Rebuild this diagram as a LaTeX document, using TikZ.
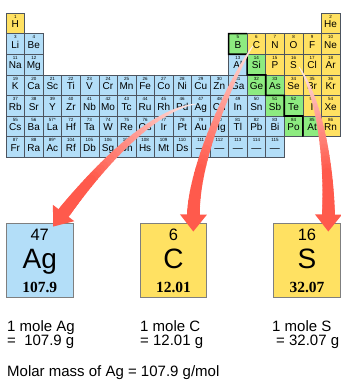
\documentclass[tikz,border=0pt]{standalone}
\usepackage{fontspec}
\setmainfont{Liberation Sans}
\newfontfamily\massfont{Liberation Serif}
\usetikzlibrary{calc}
\definecolor{pblue}{HTML}{B3DEF8}
\definecolor{pylw}{HTML}{FFE162}
\definecolor{pgrn}{HTML}{8DEB80}
\definecolor{arrred}{HTML}{FF5A4C}
\definecolor{cellline}{HTML}{4D5560}
\definecolor{boxline}{HTML}{7F7F7F}
\newcommand\tarrow[5]{%
  \coordinate (#1tip) at #5;
  \coordinate (#1end) at ($(#1tip)!17pt!#4$);
  \path #2 .. controls #3 and #4 .. (#1end)
    \foreach \myi in {0,...,40}{coordinate[pos=\myi/40] (#1p\myi)};
  \foreach \myi in {0,...,39}{
    \pgfmathtruncatemacro\myj{\myi+1}
    \pgfmathsetmacro\myw{0.8+12.2*\myi/40}
    \pgfmathtruncatemacro\mycl{min(100,10+120*\myi/40)}
    \draw[line width=\myw pt, line cap=round, draw=arrred!\mycl!white] (#1p\myi) -- (#1p\myj);
  }
  \fill[arrred] (#1tip) -- ($(#1end)!13.5pt!90:(#1tip)$) -- ($(#1end)!13.5pt!-90:(#1tip)$) -- cycle;
}
\begin{document}
\begin{tikzpicture}[x=1pt,y=-1pt,
  cellbox/.style={draw=cellline, line width=0.5pt, minimum width=18.55pt, minimum height=20.6pt, inner sep=0pt, outer sep=0pt},
  cellnum/.style={font=\fontsize{4.5}{5}\selectfont, inner sep=0pt},
  cellsym/.style={font=\fontsize{10}{12}\selectfont, inner sep=0pt, anchor=base},
  bigbox/.style={draw=boxline, line width=0.8pt, minimum width=66.5pt, minimum height=73.5pt, inner sep=0pt, outer sep=0pt},
  bignum/.style={font=\fontsize{16.5}{18}\selectfont, inner sep=0pt, anchor=base},
  bigsym/.style={font=\fontsize{28}{30}\selectfont, inner sep=0pt, anchor=base},
  bigmass/.style={font=\massfont\bfseries\fontsize{15.5}{17}\selectfont, inner sep=0pt, anchor=base},
  txt/.style={font=\fontsize{15}{18}\selectfont, anchor=base west, inner sep=0pt},
  stair/.style={draw=black, line width=1.6pt, line join=miter}
]
\useasboundingbox (0,0) rectangle (341,384);
\fill[white] (0,0) rectangle (341,384);

\foreach \c/\r/\n/\s/\f in {
  1/1/1/H/pylw, 18/1/2/He/pylw,
  1/2/3/Li/pblue, 2/2/4/Be/pblue, 13/2/5/B/pgrn, 14/2/6/C/pylw, 15/2/7/N/pylw, 16/2/8/O/pylw, 17/2/9/F/pylw, 18/2/10/Ne/pylw,
  1/3/11/Na/pblue, 2/3/12/Mg/pblue, 13/3/13/Al/pblue, 14/3/14/Si/pgrn, 15/3/15/P/pylw, 16/3/16/S/pylw, 17/3/17/Cl/pylw, 18/3/18/Ar/pylw,
  1/4/19/K/pblue, 2/4/20/Ca/pblue, 3/4/21/Sc/pblue, 4/4/22/Ti/pblue, 5/4/23/V/pblue, 6/4/24/Cr/pblue, 7/4/25/Mn/pblue, 8/4/26/Fe/pblue, 9/4/27/Co/pblue, 10/4/28/Ni/pblue, 11/4/29/Cu/pblue, 12/4/30/Zn/pblue, 13/4/31/Ga/pblue, 14/4/32/Ge/pgrn, 15/4/33/As/pgrn, 16/4/34/Se/pylw, 17/4/35/Br/pylw, 18/4/36/Kr/pylw,
  1/5/37/Rb/pblue, 2/5/38/Sr/pblue, 3/5/39/Y/pblue, 4/5/40/Zr/pblue, 5/5/41/Nb/pblue, 6/5/42/Mo/pblue, 7/5/43/Tc/pblue, 8/5/44/Ru/pblue, 9/5/45/Rh/pblue, 10/5/46/Pd/pblue, 11/5/47/Ag/pblue, 12/5/48/Cd/pblue, 13/5/49/In/pblue, 14/5/50/Sn/pblue, 15/5/51/Sb/pgrn, 16/5/52/Te/pgrn, 17/5/53/I/pylw, 18/5/54/Xe/pylw,
  1/6/55/Cs/pblue, 2/6/56/Ba/pblue, 3/6/57*/La/pblue, 4/6/72/Hf/pblue, 5/6/73/Ta/pblue, 6/6/74/W/pblue, 7/6/75/Re/pblue, 8/6/76/Os/pblue, 9/6/77/Ir/pblue, 10/6/78/Pt/pblue, 11/6/79/Au/pblue, 12/6/80/Hg/pblue, 13/6/81/Tl/pblue, 14/6/82/Pb/pblue, 15/6/83/Bi/pblue, 16/6/84/Po/pgrn, 17/6/85/At/pgrn, 18/6/86/Rn/pylw,
  1/7/87/Fr/pblue, 2/7/88/Ra/pblue, 3/7/89*/Ac/pblue, 4/7/104/Rf/pblue, 5/7/105/Db/pblue, 6/7/106/Sg/pblue, 7/7/107/Bh/pblue, 8/7/108/Hs/pblue, 9/7/109/Mt/pblue, 10/7/110/Ds/pblue, 11/7/111/—/pblue, 12/7/112/—/pblue, 13/7/113/—/pblue, 14/7/114/—/pblue, 15/7/115/—/pblue}{
  \node[cellbox, fill=\f] (cell\c-\r) at ({6+(\c-0.5)*18.55},{13+(\r-0.5)*20.6}) {};
  \node[cellnum] (num\c-\r) at ($(cell\c-\r.north)+(0,3.8)$) {\n};
  \node[cellsym] (sym\c-\r) at ($(cell\c-\r.south)+(0,-6)$) {\s};
}

\draw[stair] (cell13-2.north east) -- (cell13-2.north west) -- (cell13-2.south west)
  -- (cell13-2.south east) -- (cell14-3.south west) -- (cell15-4.north west)
  -- (cell15-4.south west) -- (cell16-5.north west) -- (cell16-5.south west)
  -- (cell16-5.south east) -- (cell16-6.south east);

\node[bigbox, fill=pblue] (agbox) at (39.75,260.25) {};
\node[bigbox, fill=pylw] (cbox) at (173.5,260.25) {};
\node[bigbox, fill=pylw] (sbox) at (307,260.25) {};
\foreach \b/\n/\s/\m in {agbox/47/Ag/107.9, cbox/6/C/12.01, sbox/16/S/32.07}{
  \node[bignum] (\b-n) at ($(\b.north)+(0,16.5)$) {\n};
  \node[bigsym] (\b-s) at ($(\b.north)+(0,44.5)$) {\s};
  \node[bigmass] (\b-m) at ($(\b.north)+(0,68.5)$) {\m};
}

\tarrow{ag}{($(cell11-5.center)+(-5,-1.7)$)}{(150,110)}{(95,172)}{($(agbox.north)+(13.5,3)$)}
\tarrow{cc}{($(cell14-2.center)+(-3.5,2)$)}{(235,72)}{(194,160)}{($(cbox.north)+(19.8,8)$)}
\tarrow{ss}{($(cell16-3.center)+(5.5,2.5)$)}{(319,97)}{(329,160)}{($(sbox.north)+(21.3,8)$)}

\node[txt] (t1) at (7,331) {1 mole Ag};
\node[txt] (t2) at (7,345) {=\ \ 107.9 g};
\node[txt] (t3) at (140,331) {1 mole C};
\node[txt] (t4) at (140,345) {= 12.01 g};
\node[txt] (t5) at (272,331) {1 mole S};
\node[txt] (t6) at (276,345) {= 32.07 g};
\node[txt] (t7) at (7,376) {Molar mass of Ag = 107.9 g/mol};
\end{tikzpicture}
\end{document}
